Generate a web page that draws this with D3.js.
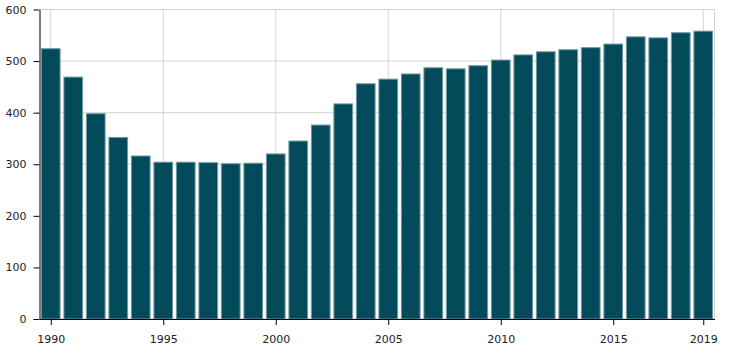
<!DOCTYPE html>
<html>
<head>
<meta charset="utf-8">
<script src="https://cdn.jsdelivr.net/npm/d3@7"></script>
<style>
  body { margin: 0; background: #fff; }
  #chart text { font-family: "DejaVu Sans", Verdana, sans-serif; font-size: 11px; fill: #222; }
</style>
</head>
<body>
<div id="chart"></div>
<script>
// data
const years = d3.range(1990, 2020);
const values = [524, 469, 398, 352, 316, 304, 304, 303, 301, 302,
                320, 345, 376, 417, 456, 465, 475, 487, 485, 491,
                502, 512, 518, 522, 526, 533, 547, 545, 555, 558];
const yTicks = [0, 100, 200, 300, 400, 500, 600];
const xTicks = [1990, 1995, 2000, 2005, 2010, 2015, 2019];

// set the dimensions and margins of the graph
const margin = {top: 9.5, right: 17.5, bottom: 34, left: 39.5},
    width = 732 - margin.left - margin.right,
    height = 353 - margin.top - margin.bottom;

const svg = d3.select("#chart")
  .append("svg")
    .attr("width", 732)
    .attr("height", 353)
  .append("g")
    .attr("transform", `translate(${margin.left}, ${margin.top})`);

const x = d3.scaleLinear()
  .domain([1989.5, 2019.5])
  .range([0, width]);

const y = d3.scaleLinear()
  .domain([0, 600])
  .range([height, 0]);

// grid lines
svg.append("g")
  .selectAll("line.h")
  .data(yTicks)
  .join("line")
    .attr("x1", 0).attr("x2", width)
    .attr("y1", d => y(d)).attr("y2", d => y(d))
    .attr("stroke", "#d4d4d4");

svg.append("g")
  .selectAll("line.v")
  .data(xTicks)
  .join("line")
    .attr("x1", d => x(d)).attr("x2", d => x(d))
    .attr("y1", 0).attr("y2", height)
    .attr("stroke", "#d4d4d4");

// right frame
svg.append("line")
  .attr("x1", width).attr("x2", width)
  .attr("y1", 0).attr("y2", height)
  .attr("stroke", "#d4d4d4");

// bars
const step = x(1991) - x(1990);
const barW = step * 0.83;
svg.selectAll("rect.bar")
  .data(years)
  .join("rect")
    .attr("class", "bar")
    .attr("x", (d) => x(d) - barW / 2)
    .attr("width", barW)
    .attr("y", (d, i) => y(values[i]))
    .attr("height", (d, i) => height - y(values[i]))
    .attr("fill", "#034b5a")
    .attr("stroke", "#6e9aa3")
    .attr("stroke-width", 1);

// axes
const xAxis = d3.axisBottom(x)
  .tickValues(xTicks)
  .tickFormat(d3.format("d"))
  .tickSize(6)
  .tickSizeOuter(0)
  .tickPadding(10);
const gx = svg.append("g")
  .attr("transform", `translate(0, ${height})`)
  .call(xAxis);
gx.select(".domain").attr("stroke", "#000");

const yAxis = d3.axisLeft(y)
  .tickValues(yTicks)
  .tickSize(6)
  .tickSizeOuter(0)
  .tickPadding(7);
const gy = svg.append("g").call(yAxis);
gy.select(".domain").attr("stroke", "#000");
</script>
</body>
</html>
